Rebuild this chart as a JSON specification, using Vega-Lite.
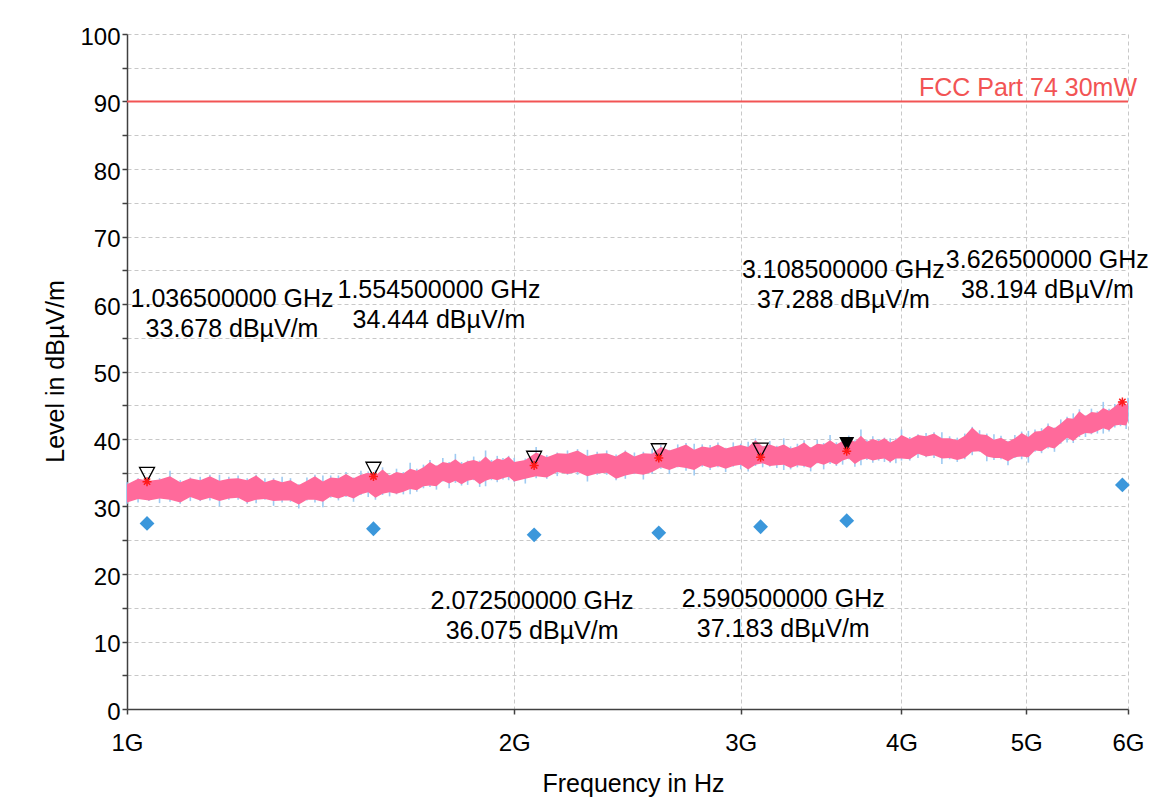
{
  "$schema": "https://vega.github.io/schema/vega-lite/v6.json",
  "width": 1001,
  "height": 675,
  "autosize": {"type": "none"},
  "padding": {"left": 127, "top": 34, "right": 31, "bottom": 89},
  "background": "white",
  "config": {
    "font": "Liberation Sans",
    "view": {"stroke": null},
    "axis": {
      "domainColor": "#404040",
      "domainWidth": 1.5,
      "tickColor": "#404040",
      "tickWidth": 1.5,
      "gridColor": "#c8c8c8",
      "gridDash": [4, 3],
      "gridWidth": 1,
      "labelColor": "black",
      "labelFont": "Liberation Sans",
      "labelFontSize": 24,
      "titleFont": "Liberation Sans",
      "titleFontSize": 25,
      "titleFontWeight": "normal",
      "titleColor": "black",
      "labelFlush": false,
      "labelOverlap": false
    },
    "axisY": {
      "tickSize": 5,
      "labelPadding": 2,
      "labelOffset": 3,
      "titleX": -64,
      "titleY": 337,
      "titleBaseline": "alphabetic",
      "titleAlign": "center",
      "titleAngle": -90
    }
  },
  "datasets": {
    "trace": [
      {"f":1.00,"lo":30.6,"hi":33.3,"blo":30.4,"bhi":33.6},
      {"f":1.02,"lo":31.1,"hi":34.1,"blo":30.6,"bhi":34.2},
      {"f":1.04,"lo":30.9,"hi":33.8,"blo":30.8,"bhi":34.4},
      {"f":1.06,"lo":31.2,"hi":34.0,"blo":30.5,"bhi":34.2},
      {"f":1.08,"lo":31.0,"hi":34.5,"blo":30.7,"bhi":35.3},
      {"f":1.10,"lo":30.6,"hi":33.6,"blo":30.4,"bhi":33.9},
      {"f":1.12,"lo":31.4,"hi":34.2,"blo":30.8,"bhi":34.3},
      {"f":1.14,"lo":30.9,"hi":33.9,"blo":30.8,"bhi":34.4},
      {"f":1.16,"lo":31.3,"hi":34.5,"blo":30.9,"bhi":34.7},
      {"f":1.18,"lo":30.8,"hi":33.8,"blo":30.0,"bhi":34.7},
      {"f":1.20,"lo":31.2,"hi":34.1,"blo":31.0,"bhi":34.4},
      {"f":1.22,"lo":31.3,"hi":34.2,"blo":31.0,"bhi":34.6},
      {"f":1.24,"lo":30.6,"hi":33.9,"blo":30.4,"bhi":34.2},
      {"f":1.26,"lo":31.0,"hi":34.6,"blo":30.5,"bhi":34.7},
      {"f":1.28,"lo":31.1,"hi":33.6,"blo":31.0,"bhi":34.2},
      {"f":1.30,"lo":30.8,"hi":34.0,"blo":30.1,"bhi":34.2},
      {"f":1.32,"lo":30.9,"hi":33.6,"blo":30.6,"bhi":34.4},
      {"f":1.34,"lo":30.9,"hi":33.9,"blo":30.7,"bhi":34.2},
      {"f":1.36,"lo":30.3,"hi":33.2,"blo":29.7,"bhi":33.3},
      {"f":1.38,"lo":31.0,"hi":33.8,"blo":30.9,"bhi":34.3},
      {"f":1.40,"lo":31.0,"hi":34.5,"blo":30.6,"bhi":34.7},
      {"f":1.42,"lo":30.7,"hi":33.7,"blo":29.9,"bhi":34.6},
      {"f":1.44,"lo":31.5,"hi":34.3,"blo":31.3,"bhi":34.6},
      {"f":1.46,"lo":31.2,"hi":34.2,"blo":30.9,"bhi":34.6},
      {"f":1.48,"lo":31.6,"hi":34.8,"blo":31.4,"bhi":35.1},
      {"f":1.50,"lo":31.2,"hi":34.2,"blo":30.7,"bhi":34.3},
      {"f":1.52,"lo":31.8,"hi":34.7,"blo":31.7,"bhi":35.3},
      {"f":1.54,"lo":32.1,"hi":35.0,"blo":31.4,"bhi":35.2},
      {"f":1.56,"lo":31.3,"hi":34.6,"blo":31.0,"bhi":35.4},
      {"f":1.58,"lo":31.9,"hi":35.5,"blo":31.7,"bhi":35.8},
      {"f":1.60,"lo":32.1,"hi":34.6,"blo":31.5,"bhi":34.7},
      {"f":1.62,"lo":31.9,"hi":35.1,"blo":31.8,"bhi":35.6},
      {"f":1.64,"lo":32.2,"hi":34.9,"blo":31.8,"bhi":35.1},
      {"f":1.66,"lo":32.6,"hi":35.6,"blo":31.8,"bhi":36.5},
      {"f":1.68,"lo":32.4,"hi":35.3,"blo":32.2,"bhi":35.6},
      {"f":1.70,"lo":33.0,"hi":35.8,"blo":32.7,"bhi":36.2},
      {"f":1.72,"lo":33.1,"hi":36.6,"blo":32.9,"bhi":36.9},
      {"f":1.74,"lo":33.0,"hi":36.0,"blo":32.5,"bhi":36.1},
      {"f":1.76,"lo":33.8,"hi":36.6,"blo":33.7,"bhi":37.2},
      {"f":1.78,"lo":33.4,"hi":36.4,"blo":32.7,"bhi":36.6},
      {"f":1.80,"lo":33.8,"hi":37.0,"blo":33.5,"bhi":37.8},
      {"f":1.82,"lo":33.3,"hi":36.3,"blo":33.1,"bhi":36.6},
      {"f":1.84,"lo":33.8,"hi":36.7,"blo":33.2,"bhi":36.8},
      {"f":1.86,"lo":34.0,"hi":36.9,"blo":33.9,"bhi":37.4},
      {"f":1.88,"lo":33.3,"hi":36.6,"blo":32.9,"bhi":36.8},
      {"f":1.90,"lo":33.8,"hi":37.4,"blo":33.0,"bhi":38.3},
      {"f":1.92,"lo":34.1,"hi":36.6,"blo":33.9,"bhi":36.9},
      {"f":1.94,"lo":33.9,"hi":37.1,"blo":33.6,"bhi":37.5},
      {"f":1.96,"lo":34.2,"hi":36.9,"blo":34.0,"bhi":37.2},
      {"f":1.98,"lo":34.4,"hi":37.4,"blo":33.9,"bhi":37.5},
      {"f":2.00,"lo":33.7,"hi":36.6,"blo":33.6,"bhi":37.2},
      {"f":2.04,"lo":34.1,"hi":36.9,"blo":33.4,"bhi":37.1},
      {"f":2.08,"lo":34.5,"hi":38.0,"blo":34.2,"bhi":38.8},
      {"f":2.12,"lo":34.3,"hi":37.3,"blo":34.1,"bhi":37.6},
      {"f":2.16,"lo":35.1,"hi":37.9,"blo":34.5,"bhi":38.0},
      {"f":2.20,"lo":34.8,"hi":37.8,"blo":34.7,"bhi":38.3},
      {"f":2.24,"lo":35.1,"hi":38.3,"blo":34.7,"bhi":38.5},
      {"f":2.28,"lo":34.5,"hi":37.5,"blo":33.7,"bhi":38.4},
      {"f":2.32,"lo":34.9,"hi":37.8,"blo":34.7,"bhi":38.1},
      {"f":2.36,"lo":35.0,"hi":37.9,"blo":34.7,"bhi":38.3},
      {"f":2.40,"lo":34.1,"hi":37.4,"blo":33.9,"bhi":37.7},
      {"f":2.44,"lo":34.6,"hi":38.2,"blo":34.1,"bhi":38.3},
      {"f":2.48,"lo":34.9,"hi":37.4,"blo":34.8,"bhi":38.0},
      {"f":2.52,"lo":34.7,"hi":37.9,"blo":34.0,"bhi":38.1},
      {"f":2.56,"lo":35.1,"hi":37.8,"blo":34.8,"bhi":38.6},
      {"f":2.60,"lo":35.8,"hi":38.8,"blo":35.6,"bhi":39.1},
      {"f":2.64,"lo":35.4,"hi":38.3,"blo":34.8,"bhi":38.4},
      {"f":2.68,"lo":35.9,"hi":38.7,"blo":35.8,"bhi":39.2},
      {"f":2.72,"lo":35.7,"hi":39.2,"blo":35.3,"bhi":39.4},
      {"f":2.76,"lo":35.4,"hi":38.4,"blo":34.6,"bhi":39.3},
      {"f":2.80,"lo":36.1,"hi":38.9,"blo":35.9,"bhi":39.2},
      {"f":2.84,"lo":35.7,"hi":38.7,"blo":35.4,"bhi":39.1},
      {"f":2.88,"lo":36.0,"hi":39.2,"blo":35.8,"bhi":39.5},
      {"f":2.92,"lo":35.6,"hi":38.6,"blo":35.1,"bhi":38.7},
      {"f":2.96,"lo":36.0,"hi":38.9,"blo":35.9,"bhi":39.5},
      {"f":3.00,"lo":36.2,"hi":39.1,"blo":35.5,"bhi":39.3},
      {"f":3.04,"lo":35.5,"hi":38.8,"blo":35.2,"bhi":39.6},
      {"f":3.08,"lo":36.2,"hi":39.8,"blo":36.0,"bhi":40.1},
      {"f":3.12,"lo":36.4,"hi":38.9,"blo":35.8,"bhi":39.0},
      {"f":3.16,"lo":36.0,"hi":39.2,"blo":35.9,"bhi":39.7},
      {"f":3.20,"lo":36.1,"hi":38.8,"blo":35.7,"bhi":39.0},
      {"f":3.24,"lo":36.2,"hi":39.2,"blo":35.4,"bhi":40.1},
      {"f":3.28,"lo":35.7,"hi":38.6,"blo":35.5,"bhi":38.9},
      {"f":3.32,"lo":36.1,"hi":38.9,"blo":35.8,"bhi":39.3},
      {"f":3.36,"lo":36.0,"hi":39.5,"blo":35.8,"bhi":39.8},
      {"f":3.40,"lo":35.7,"hi":38.7,"blo":35.2,"bhi":38.8},
      {"f":3.44,"lo":36.5,"hi":39.3,"blo":36.4,"bhi":39.9},
      {"f":3.48,"lo":36.2,"hi":39.2,"blo":35.5,"bhi":39.4},
      {"f":3.52,"lo":36.6,"hi":39.8,"blo":36.3,"bhi":40.6},
      {"f":3.56,"lo":36.2,"hi":39.2,"blo":36.0,"bhi":39.5},
      {"f":3.60,"lo":36.8,"hi":39.7,"blo":36.2,"bhi":39.8},
      {"f":3.64,"lo":37.1,"hi":40.0,"blo":37.0,"bhi":40.5},
      {"f":3.68,"lo":36.3,"hi":39.6,"blo":35.9,"bhi":39.8},
      {"f":3.72,"lo":36.9,"hi":40.5,"blo":36.1,"bhi":41.4},
      {"f":3.76,"lo":37.1,"hi":39.6,"blo":36.9,"bhi":39.9},
      {"f":3.80,"lo":36.8,"hi":40.0,"blo":36.5,"bhi":40.4},
      {"f":3.84,"lo":37.0,"hi":39.7,"blo":36.8,"bhi":40.0},
      {"f":3.88,"lo":37.1,"hi":40.1,"blo":36.6,"bhi":40.2},
      {"f":3.92,"lo":36.6,"hi":39.5,"blo":36.5,"bhi":40.1},
      {"f":3.96,"lo":37.1,"hi":39.9,"blo":36.4,"bhi":40.1},
      {"f":4.00,"lo":37.1,"hi":40.6,"blo":36.8,"bhi":41.4},
      {"f":4.06,"lo":37.0,"hi":40.0,"blo":36.8,"bhi":40.3},
      {"f":4.12,"lo":37.8,"hi":40.6,"blo":37.2,"bhi":40.7},
      {"f":4.18,"lo":37.4,"hi":40.4,"blo":37.3,"bhi":40.9},
      {"f":4.24,"lo":37.6,"hi":40.8,"blo":37.2,"bhi":41.0},
      {"f":4.30,"lo":37.1,"hi":40.1,"blo":36.3,"bhi":41.0},
      {"f":4.36,"lo":37.2,"hi":40.1,"blo":37.0,"bhi":40.4},
      {"f":4.42,"lo":36.9,"hi":39.8,"blo":36.6,"bhi":40.2},
      {"f":4.48,"lo":37.2,"hi":40.5,"blo":37.0,"bhi":40.8},
      {"f":4.54,"lo":38.1,"hi":41.7,"blo":37.6,"bhi":41.8},
      {"f":4.60,"lo":38.2,"hi":40.7,"blo":38.1,"bhi":41.3},
      {"f":4.66,"lo":37.4,"hi":40.6,"blo":36.7,"bhi":40.8},
      {"f":4.72,"lo":37.2,"hi":39.9,"blo":36.9,"bhi":40.7},
      {"f":4.78,"lo":37.2,"hi":40.2,"blo":37.0,"bhi":40.5},
      {"f":4.84,"lo":36.7,"hi":39.6,"blo":36.1,"bhi":39.7},
      {"f":4.90,"lo":37.3,"hi":40.1,"blo":37.2,"bhi":40.6},
      {"f":4.96,"lo":37.4,"hi":40.9,"blo":37.0,"bhi":41.1},
      {"f":5.02,"lo":37.3,"hi":40.3,"blo":36.5,"bhi":41.2},
      {"f":5.08,"lo":38.3,"hi":41.1,"blo":38.1,"bhi":41.4},
      {"f":5.14,"lo":38.2,"hi":41.2,"blo":37.9,"bhi":41.6},
      {"f":5.20,"lo":38.8,"hi":42.0,"blo":38.6,"bhi":42.3},
      {"f":5.26,"lo":38.6,"hi":41.6,"blo":38.1,"bhi":41.7},
      {"f":5.32,"lo":39.4,"hi":42.3,"blo":39.3,"bhi":42.9},
      {"f":5.38,"lo":40.2,"hi":43.1,"blo":39.5,"bhi":43.3},
      {"f":5.44,"lo":39.7,"hi":43.0,"blo":39.4,"bhi":43.8},
      {"f":5.50,"lo":40.5,"hi":44.1,"blo":40.3,"bhi":44.4},
      {"f":5.56,"lo":40.9,"hi":43.4,"blo":40.3,"bhi":43.5},
      {"f":5.62,"lo":40.8,"hi":44.0,"blo":40.7,"bhi":44.5},
      {"f":5.68,"lo":41.2,"hi":43.9,"blo":40.8,"bhi":44.1},
      {"f":5.74,"lo":41.6,"hi":44.6,"blo":40.8,"bhi":45.5},
      {"f":5.80,"lo":41.3,"hi":44.2,"blo":41.1,"bhi":44.5},
      {"f":5.86,"lo":42.0,"hi":44.8,"blo":41.7,"bhi":45.2},
      {"f":5.92,"lo":42.1,"hi":45.6,"blo":41.9,"bhi":45.9},
      {"f":5.98,"lo":42.0,"hi":45.0,"blo":41.5,"bhi":45.1},
      {"f":6.00,"lo":42.7,"hi":45.5,"blo":42.6,"bhi":46.1}
    ],
    "peaks": [
      {"f":1.0365,"level":33.678,"avg":27.5,"marker":"open"},
      {"f":1.5545,"level":34.444,"avg":26.7,"marker":"open"},
      {"f":2.0725,"level":36.075,"avg":25.8,"marker":"open"},
      {"f":2.5905,"level":37.183,"avg":26.1,"marker":"open"},
      {"f":3.1085,"level":37.288,"avg":27.0,"marker":"open"},
      {"f":3.6265,"level":38.194,"avg":27.9,"marker":"active"},
      {"f":5.94,"level":45.5,"avg":33.2,"marker":"none"}
    ],
    "limit": [
      {"label":"FCC Part 74 30mW","level":90,"f":1,"f_end":6}
    ],
    "notes": [
      {"f":1.2068,"level":59.6,"text":"1.036500000 GHz\n33.678 dBµV/m"},
      {"f":1.7479,"level":60.9,"text":"1.554500000 GHz\n34.444 dBµV/m"},
      {"f":2.0649,"level":14.8,"text":"2.072500000 GHz\n36.075 dBµV/m"},
      {"f":3.2370,"level":15.1,"text":"2.590500000 GHz\n37.183 dBµV/m"},
      {"f":3.6048,"level":63.8,"text":"3.108500000 GHz\n37.288 dBµV/m"},
      {"f":5.1933,"level":65.4,"text":"3.626500000 GHz\n38.194 dBµV/m"}
    ]
  },
  "encoding": {
    "x": {
      "field": "f",
      "type": "quantitative",
      "scale": {"type": "log", "domain": [1, 6], "nice": false},
      "axis": {
        "title": "Frequency in Hz",
        "values": [1, 2, 3, 4, 5, 6],
        "labelExpr": "datum.value + 'G'",
        "tickSize": 5,
        "labelPadding": 36,
        "labelBaseline": "alphabetic",
        "titleX": 506,
        "titleY": 82,
        "titleBaseline": "alphabetic",
        "titleAlign": "center"
      }
    }
  },
  "layer": [
    {
      "data": {"name": "trace"},
      "mark": {"type": "rule", "color": "#9fcbf2", "strokeWidth": 1.6, "opacity": 1},
      "encoding": {
        "y": {
          "field": "blo",
          "type": "quantitative",
          "scale": {"domain": [0, 100], "nice": false},
          "axis": {"title": "Level in dBµV/m", "values": [0, 5, 10, 15, 20, 25, 30, 35, 40, 45, 50, 55, 60, 65, 70, 75, 80, 85, 90, 95, 100], "labelExpr": "datum.value % 10 === 0 ? datum.label : ''"}
        },
        "y2": {"field": "bhi"}
      }
    },
    {
      "data": {"name": "trace"},
      "mark": {"type": "area", "color": "#ff6a9b", "opacity": 1},
      "encoding": {
        "y": {
          "field": "lo",
          "type": "quantitative",
          "scale": {"domain": [0, 100], "nice": false},
          "axis": {"title": "Level in dBµV/m", "values": [0, 5, 10, 15, 20, 25, 30, 35, 40, 45, 50, 55, 60, 65, 70, 75, 80, 85, 90, 95, 100], "labelExpr": "datum.value % 10 === 0 ? datum.label : ''"}
        },
        "y2": {"field": "hi"}
      }
    },
    {
      "data": {"name": "limit"},
      "mark": {"type": "rule", "color": "#f25454", "strokeWidth": 2},
      "encoding": {
        "x2": {"field": "f_end"},
        "y": {
          "field": "level",
          "type": "quantitative",
          "scale": {"domain": [0, 100], "nice": false},
          "axis": {"title": "Level in dBµV/m", "values": [0, 5, 10, 15, 20, 25, 30, 35, 40, 45, 50, 55, 60, 65, 70, 75, 80, 85, 90, 95, 100], "labelExpr": "datum.value % 10 === 0 ? datum.label : ''"}
        }
      }
    },
    {
      "data": {"name": "limit"},
      "mark": {"type": "text", "color": "#f25454", "fontSize": 25, "align": "right", "baseline": "alphabetic", "dx": 9, "dy": -6},
      "encoding": {
        "x": {"field": "f_end", "type": "quantitative"},
        "y": {
          "field": "level",
          "type": "quantitative",
          "scale": {"domain": [0, 100], "nice": false},
          "axis": {"title": "Level in dBµV/m", "values": [0, 5, 10, 15, 20, 25, 30, 35, 40, 45, 50, 55, 60, 65, 70, 75, 80, 85, 90, 95, 100], "labelExpr": "datum.value % 10 === 0 ? datum.label : ''"}
        },
        "text": {"field": "label"}
      }
    },
    {
      "data": {"name": "peaks"},
      "transform": [{"filter": "datum.marker === 'open'"}],
      "mark": {"type": "point", "shape": "M-1,-1.9L1,-1.9L0,0Z", "size": 225, "filled": false, "color": "black", "strokeWidth": 1.3, "opacity": 1},
      "encoding": {
        "y": {
          "field": "level",
          "type": "quantitative",
          "scale": {"domain": [0, 100], "nice": false},
          "axis": {"title": "Level in dBµV/m", "values": [0, 5, 10, 15, 20, 25, 30, 35, 40, 45, 50, 55, 60, 65, 70, 75, 80, 85, 90, 95, 100], "labelExpr": "datum.value % 10 === 0 ? datum.label : ''"}
        }
      }
    },
    {
      "data": {"name": "peaks"},
      "transform": [{"filter": "datum.marker === 'active'"}],
      "mark": {"type": "point", "shape": "M-1,-1.9L1,-1.9L0,0Z", "size": 225, "filled": true, "color": "black", "opacity": 1},
      "encoding": {
        "y": {
          "field": "level",
          "type": "quantitative",
          "scale": {"domain": [0, 100], "nice": false},
          "axis": {"title": "Level in dBµV/m", "values": [0, 5, 10, 15, 20, 25, 30, 35, 40, 45, 50, 55, 60, 65, 70, 75, 80, 85, 90, 95, 100], "labelExpr": "datum.value % 10 === 0 ? datum.label : ''"}
        }
      }
    },
    {
      "data": {"name": "peaks"},
      "mark": {"type": "point", "shape": "M-1,0L1,0M0,-1L0,1M-0.7,-0.7L0.7,0.7M-0.7,0.7L0.7,-0.7", "size": 81, "filled": false, "color": "#ff1a1a", "strokeWidth": 1.5, "opacity": 1},
      "encoding": {
        "y": {
          "field": "level",
          "type": "quantitative",
          "scale": {"domain": [0, 100], "nice": false},
          "axis": {"title": "Level in dBµV/m", "values": [0, 5, 10, 15, 20, 25, 30, 35, 40, 45, 50, 55, 60, 65, 70, 75, 80, 85, 90, 95, 100], "labelExpr": "datum.value % 10 === 0 ? datum.label : ''"}
        }
      }
    },
    {
      "data": {"name": "peaks"},
      "mark": {"type": "point", "shape": "diamond", "size": 220, "filled": true, "color": "#3b97db", "opacity": 1},
      "encoding": {
        "y": {
          "field": "avg",
          "type": "quantitative",
          "scale": {"domain": [0, 100], "nice": false},
          "axis": {"title": "Level in dBµV/m", "values": [0, 5, 10, 15, 20, 25, 30, 35, 40, 45, 50, 55, 60, 65, 70, 75, 80, 85, 90, 95, 100], "labelExpr": "datum.value % 10 === 0 ? datum.label : ''"}
        }
      }
    },
    {
      "data": {"name": "notes"},
      "mark": {"type": "text", "fontSize": 25, "align": "center", "baseline": "alphabetic", "lineBreak": "\n", "lineHeight": 30, "color": "black"},
      "encoding": {
        "y": {
          "field": "level",
          "type": "quantitative",
          "scale": {"domain": [0, 100], "nice": false},
          "axis": {"title": "Level in dBµV/m", "values": [0, 5, 10, 15, 20, 25, 30, 35, 40, 45, 50, 55, 60, 65, 70, 75, 80, 85, 90, 95, 100], "labelExpr": "datum.value % 10 === 0 ? datum.label : ''"}
        },
        "text": {"field": "text"}
      }
    }
  ]
}
